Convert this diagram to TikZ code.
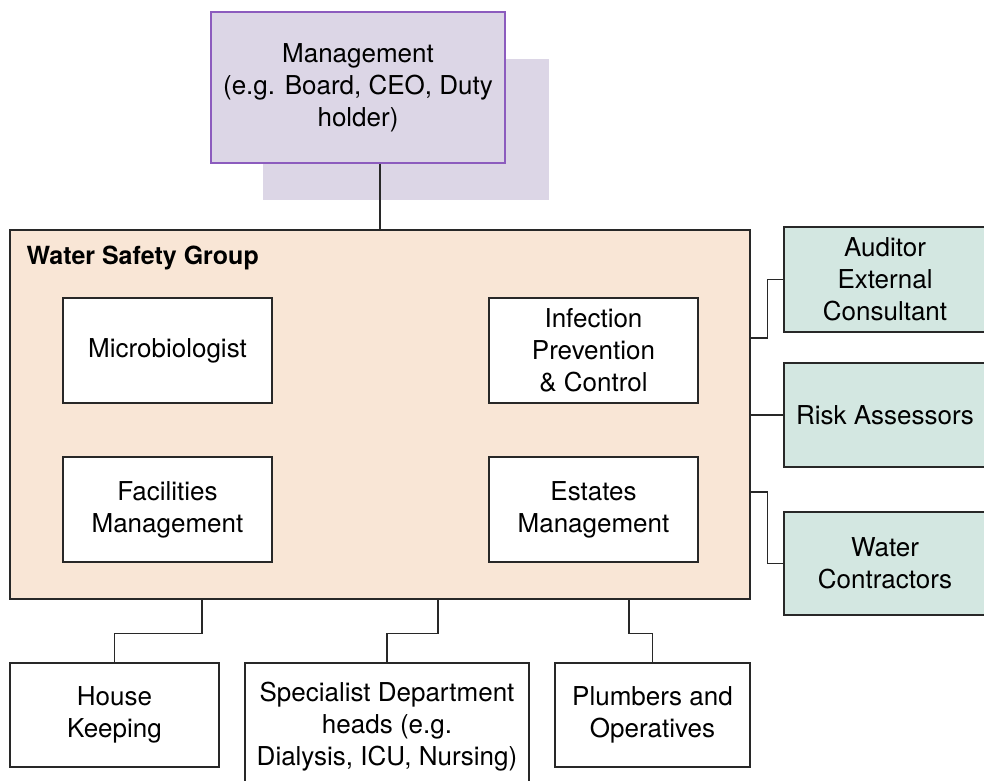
\documentclass[tikz,border=0pt]{standalone}
\usepackage{fontspec}
\setmainfont{TeX Gyre Heros}
\definecolor{mgmtfill}{RGB}{220,214,230}
\definecolor{mgmtline}{RGB}{140,92,190}
\definecolor{groupfill}{RGB}{249,230,214}
\definecolor{extfill}{RGB}{211,231,225}
\definecolor{linegray}{RGB}{40,40,40}
\begin{document}
\begin{tikzpicture}[x=1pt,y=-1pt,
	box/.style={draw=linegray, line width=1.3pt, fill=white, align=center, inner sep=0pt,
		font=\fontsize{26}{32}\selectfont},
	inbox/.style={box, minimum width=209pt, minimum height=105pt},
	extbox/.style={box, fill=extfill, minimum width=202pt},
	link/.style={draw=linegray, line width=1.3pt}]
	\useasboundingbox (0,0) rectangle (984,780);
	% management and its shadow
	\fill [mgmtfill] (263,59) rectangle (549,200);
	\node [box, draw=mgmtline, fill=mgmtfill, minimum width=294pt, minimum height=151pt] (mgmt) at (358,87.5) {Management\\(e.g. Board, CEO, Duty\\holder)};
	% water safety group
	\node [box, fill=groupfill, minimum width=740pt, minimum height=369pt] (wsg) at (380,414.5) {};
	\node [anchor=west, font=\bfseries\fontsize{25}{30}\selectfont] (wsglabel) at (23,258) {Water Safety Group};
	\node [inbox] (micro) at (167.5,350.5) {Microbiologist};
	\node [inbox] (ipc) at (593.5,350.5) {Infection\\Prevention\\\& Control};
	\node [inbox] (fac) at (167.5,509.5) {Facilities\\Management};
	\node [inbox] (est) at (593.5,509.5) {Estates\\Management};
	% outside the group
	\node [extbox, minimum height=105pt] (aud) at (885,279.5) {Auditor\\External\\Consultant};
	\node [extbox, minimum height=104pt] (risk) at (885,415) {Risk Assessors};
	\node [extbox, minimum height=103pt] (water) at (885,563.5) {Water\\Contractors};
	\node [box, minimum width=209pt, minimum height=104pt] (house) at (114.5,715) {House\\Keeping};
	\node [box, minimum width=284pt, minimum height=128pt] (spec) at (387,727) {Specialist Department\\heads (e.g.\\Dialysis, ICU, Nursing)};
	\node [box, minimum width=195pt, minimum height=104pt] (plumb) at (652.5,715) {Plumbers and\\Operatives};
	% connectors
	\draw [link] (wsg.north |- mgmt.south) -- (wsg.north);
	\draw [link] ([yshift=76.5pt]wsg.east) -- ++(17,0) |- (aud.west);
	\draw [link] (wsg.east |- risk.west) -- (risk.west);
	\draw [link] ([yshift=-77.5pt]wsg.east) -- ++(17,0) |- (water.west);
	\draw [link] ([xshift=-178pt]wsg.south) -- ++(0,34) -| (house.north);
	\draw [link] ([xshift=58pt]wsg.south) -- ++(0,34) -| (spec.north);
	\draw [link] ([xshift=249pt]wsg.south) -- ++(0,34) -| (plumb.north);
\end{tikzpicture}
\end{document}
